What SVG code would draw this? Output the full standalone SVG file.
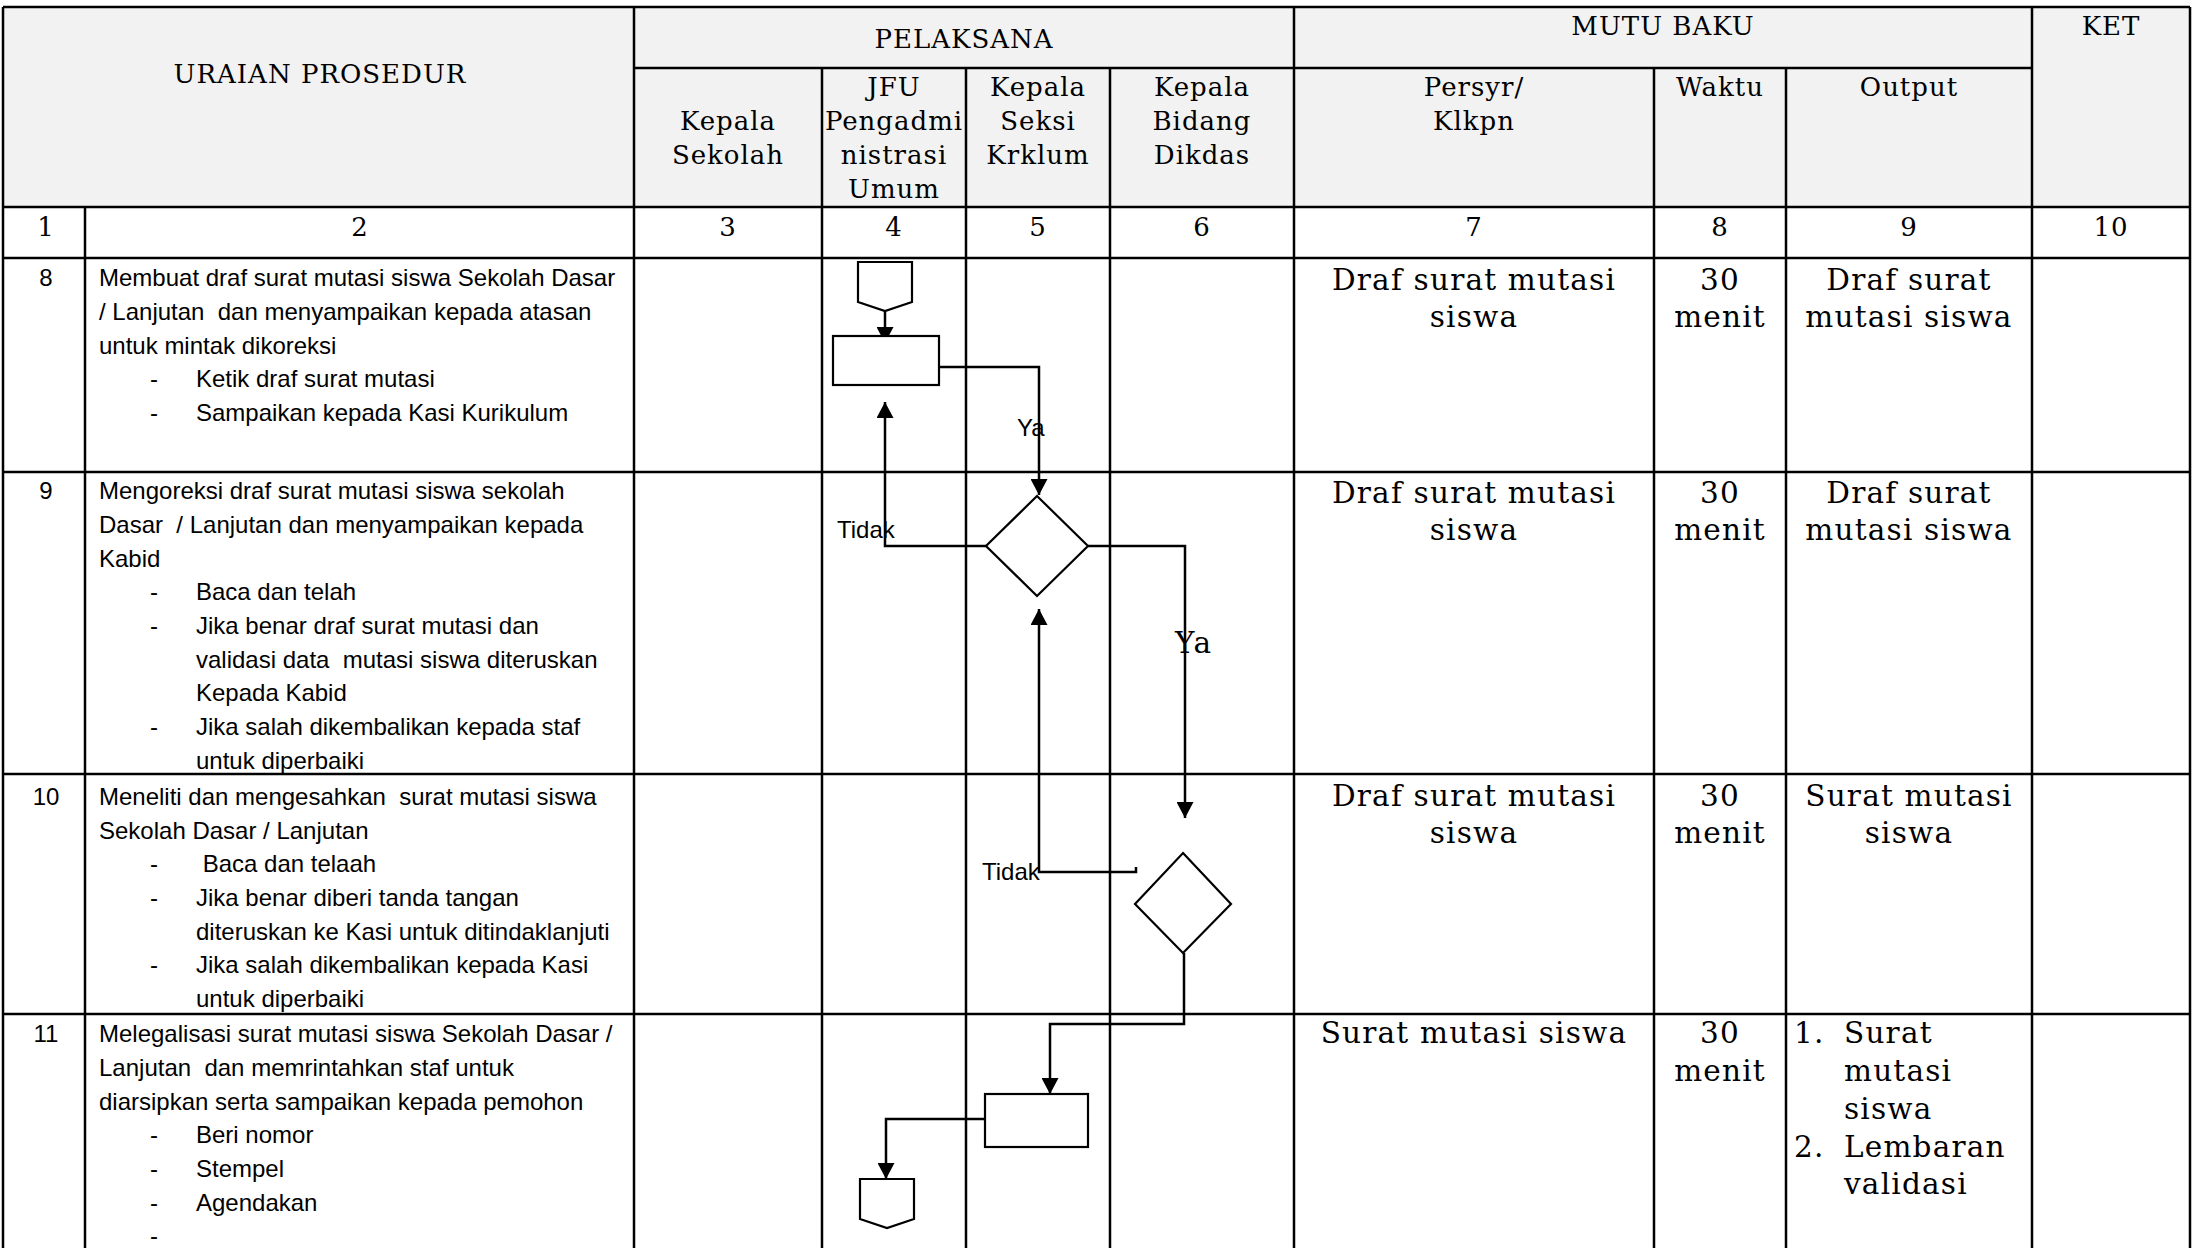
<svg xmlns="http://www.w3.org/2000/svg" width="2196" height="1248" viewBox="0 0 2196 1248">
<style>
.g{stroke:#000;stroke-width:2.5;fill:none}
.hs{font-family:"DejaVu Serif","Liberation Serif",serif;font-size:26px;letter-spacing:1px;text-anchor:middle;fill:#000}
.bs{font-family:"DejaVu Serif","Liberation Serif",serif;font-size:29.5px;letter-spacing:1.2px;text-anchor:middle;fill:#000}
.bsl{font-family:"DejaVu Serif","Liberation Serif",serif;font-size:29.5px;letter-spacing:1.2px;fill:#000}
.sn{font-family:"Liberation Sans",Arial,sans-serif;font-size:24px;fill:#000;white-space:pre}
.snc{font-family:"Liberation Sans",Arial,sans-serif;font-size:24px;fill:#000;text-anchor:middle}
.shape{fill:#fff;stroke:#000;stroke-width:2.2}
.conn{fill:none;stroke:#000;stroke-width:2.5}
</style>
<defs>
<marker id="arr" markerUnits="userSpaceOnUse" markerWidth="17" markerHeight="17" refX="16" refY="8.5" orient="auto">
<path d="M0,0 L16,8.5 L0,17 Z" fill="#000"/>
</marker>
</defs>
<rect x="0" y="0" width="2196" height="1248" fill="#fff"/>
<g id="grid">
<rect x="3" y="7" width="2187" height="200" fill="#f2f2f2"/>
<g class="g">
<line x1="3" y1="7" x2="2190" y2="7"/>
<line x1="634" y1="68" x2="2032" y2="68"/>
<line x1="3" y1="207" x2="2190" y2="207"/>
<line x1="3" y1="258" x2="2190" y2="258"/>
<line x1="3" y1="472" x2="2190" y2="472"/>
<line x1="3" y1="774" x2="2190" y2="774"/>
<line x1="3" y1="1014" x2="2190" y2="1014"/>
<line x1="3" y1="7" x2="3" y2="1248"/>
<line x1="85" y1="207" x2="85" y2="1248"/>
<line x1="634" y1="7" x2="634" y2="1248"/>
<line x1="822" y1="68" x2="822" y2="1248"/>
<line x1="966" y1="68" x2="966" y2="1248"/>
<line x1="1110" y1="68" x2="1110" y2="1248"/>
<line x1="1294" y1="7" x2="1294" y2="1248"/>
<line x1="1654" y1="68" x2="1654" y2="1248"/>
<line x1="1786" y1="68" x2="1786" y2="1248"/>
<line x1="2032" y1="7" x2="2032" y2="1248"/>
<line x1="2190" y1="7" x2="2190" y2="1248"/>
</g>
</g>
<g id="header">
<text class="hs" x="320" y="83">URAIAN PROSEDUR</text>
<text class="hs" x="964" y="48">PELAKSANA</text>
<text class="hs" x="1663" y="35">MUTU BAKU</text>
<text class="hs" x="2111" y="35">KET</text>
<text class="hs" x="728" y="130">Kepala</text>
<text class="hs" x="728" y="164">Sekolah</text>
<text class="hs" x="894" y="96">JFU</text>
<text class="hs" x="894" y="130">Pengadmi</text>
<text class="hs" x="894" y="164">nistrasi</text>
<text class="hs" x="894" y="198">Umum</text>
<text class="hs" x="1038" y="96">Kepala</text>
<text class="hs" x="1038" y="130">Seksi</text>
<text class="hs" x="1038" y="164">Krklum</text>
<text class="hs" x="1202" y="96">Kepala</text>
<text class="hs" x="1202" y="130">Bidang</text>
<text class="hs" x="1202" y="164">Dikdas</text>
<text class="hs" x="1474" y="96">Persyr/</text>
<text class="hs" x="1474" y="130">Klkpn</text>
<text class="hs" x="1720" y="96">Waktu</text>
<text class="hs" x="1909" y="96">Output</text>
<text class="hs" x="46" y="236">1</text>
<text class="hs" x="360" y="236">2</text>
<text class="hs" x="728" y="236">3</text>
<text class="hs" x="894" y="236">4</text>
<text class="hs" x="1038" y="236">5</text>
<text class="hs" x="1202" y="236">6</text>
<text class="hs" x="1474" y="236">7</text>
<text class="hs" x="1720" y="236">8</text>
<text class="hs" x="1909" y="236">9</text>
<text class="hs" x="2111" y="236">10</text>
</g>
<g id="row8">
<text class="snc" x="46" y="286">8</text>
<text class="sn" x="99" y="286">Membuat draf surat mutasi siswa Sekolah Dasar</text>
<text class="sn" x="99" y="320">/ Lanjutan  dan menyampaikan kepada atasan</text>
<text class="sn" x="99" y="354">untuk mintak dikoreksi</text>
<text class="sn" x="150" y="387">-</text><text class="sn" x="196" y="387">Ketik draf surat mutasi</text>
<text class="sn" x="150" y="421">-</text><text class="sn" x="196" y="421">Sampaikan kepada Kasi Kurikulum</text>
<text class="bs" x="1474" y="290">Draf surat mutasi</text>
<text class="bs" x="1474" y="327">siswa</text>
<text class="bs" x="1720" y="290">30</text>
<text class="bs" x="1720" y="327">menit</text>
<text class="bs" x="1909" y="290">Draf surat</text>
<text class="bs" x="1909" y="327">mutasi siswa</text>
</g>
<g id="row9">
<text class="snc" x="46" y="499">9</text>
<text class="sn" x="99" y="499">Mengoreksi draf surat mutasi siswa sekolah</text>
<text class="sn" x="99" y="533">Dasar  / Lanjutan dan menyampaikan kepada</text>
<text class="sn" x="99" y="567">Kabid</text>
<text class="sn" x="150" y="600">-</text><text class="sn" x="196" y="600">Baca dan telah</text>
<text class="sn" x="150" y="634">-</text><text class="sn" x="196" y="634">Jika benar draf surat mutasi dan</text>
<text class="sn" x="196" y="668">validasi data  mutasi siswa diteruskan</text>
<text class="sn" x="196" y="701">Kepada Kabid</text>
<text class="sn" x="150" y="735">-</text><text class="sn" x="196" y="735">Jika salah dikembalikan kepada staf</text>
<text class="sn" x="196" y="769">untuk diperbaiki</text>
<text class="bs" x="1474" y="503">Draf surat mutasi</text>
<text class="bs" x="1474" y="540">siswa</text>
<text class="bs" x="1720" y="503">30</text>
<text class="bs" x="1720" y="540">menit</text>
<text class="bs" x="1909" y="503">Draf surat</text>
<text class="bs" x="1909" y="540">mutasi siswa</text>
</g>
<g id="row10">
<text class="snc" x="46" y="805">10</text>
<text class="sn" x="99" y="805">Meneliti dan mengesahkan  surat mutasi siswa</text>
<text class="sn" x="99" y="839">Sekolah Dasar / Lanjutan</text>
<text class="sn" x="150" y="872">-</text><text class="sn" x="196" y="872"> Baca dan telaah</text>
<text class="sn" x="150" y="906">-</text><text class="sn" x="196" y="906">Jika benar diberi tanda tangan</text>
<text class="sn" x="196" y="940">diteruskan ke Kasi untuk ditindaklanjuti</text>
<text class="sn" x="150" y="973">-</text><text class="sn" x="196" y="973">Jika salah dikembalikan kepada Kasi</text>
<text class="sn" x="196" y="1007">untuk diperbaiki</text>
<text class="bs" x="1474" y="806">Draf surat mutasi</text>
<text class="bs" x="1474" y="843">siswa</text>
<text class="bs" x="1720" y="806">30</text>
<text class="bs" x="1720" y="843">menit</text>
<text class="bs" x="1909" y="806">Surat mutasi</text>
<text class="bs" x="1909" y="843">siswa</text>
</g>
<g id="row11">
<text class="snc" x="46" y="1042">11</text>
<text class="sn" x="99" y="1042">Melegalisasi surat mutasi siswa Sekolah Dasar /</text>
<text class="sn" x="99" y="1076">Lanjutan  dan memrintahkan staf untuk</text>
<text class="sn" x="99" y="1110">diarsipkan serta sampaikan kepada pemohon</text>
<text class="sn" x="150" y="1143">-</text><text class="sn" x="196" y="1143">Beri nomor</text>
<text class="sn" x="150" y="1177">-</text><text class="sn" x="196" y="1177">Stempel</text>
<text class="sn" x="150" y="1211">-</text><text class="sn" x="196" y="1211">Agendakan</text>
<text class="sn" x="150" y="1244">-</text>
<text class="bs" x="1474" y="1043">Surat mutasi siswa</text>
<text class="bs" x="1720" y="1043">30</text>
<text class="bs" x="1720" y="1081">menit</text>
<text class="bsl" x="1794" y="1043">1.</text><text class="bsl" x="1844" y="1043">Surat</text>
<text class="bsl" x="1844" y="1081">mutasi</text>
<text class="bsl" x="1844" y="1119">siswa</text>
<text class="bsl" x="1794" y="1157">2.</text><text class="bsl" x="1844" y="1157">Lembaran</text>
<text class="bsl" x="1844" y="1194">validasi</text>
</g>
<g id="connectors">
<path class="conn" d="M885,305 L885,343" marker-end="url(#arr)"/>
<path class="conn" d="M939,367 L1039,367 L1039,495" marker-end="url(#arr)"/>
<path class="conn" d="M986,546 L885,546 L885,402" marker-end="url(#arr)"/>
<path class="conn" d="M1088,546 L1185,546 L1185,818" marker-end="url(#arr)"/>
<path class="conn" d="M1136,867 L1136,872 L1039,872 L1039,609" marker-end="url(#arr)"/>
<path class="conn" d="M1184,953 L1184,1024 L1050,1024 L1050,1094" marker-end="url(#arr)"/>
<path class="conn" d="M985,1119 L886,1119 L886,1179" marker-end="url(#arr)"/>
<text class="sn" x="1017" y="436">Ya</text>
<text class="sn" x="837" y="538">Tidak</text>
<text class="bsl" x="1175" y="653">Ya</text>
<text class="sn" x="982" y="880">Tidak</text>
</g>
<g id="start-connector"><polygon class="shape" points="858,262 912,262 912,302 885,311 858,302"/></g>
<g id="process-draft"><rect class="shape" x="833" y="336" width="106" height="49"/></g>
<g id="decision-kasi"><polygon class="shape" points="1037,496 1088,546 1037,596 986,546"/></g>
<g id="decision-kabid"><polygon class="shape" points="1183,853 1231,904 1183,953 1135,904"/></g>
<g id="process-legalisasi"><rect class="shape" x="985" y="1094" width="103" height="53"/></g>
<g id="end-connector"><polygon class="shape" points="860,1179 914,1179 914,1219 887,1228 860,1219"/></g>
</svg>
